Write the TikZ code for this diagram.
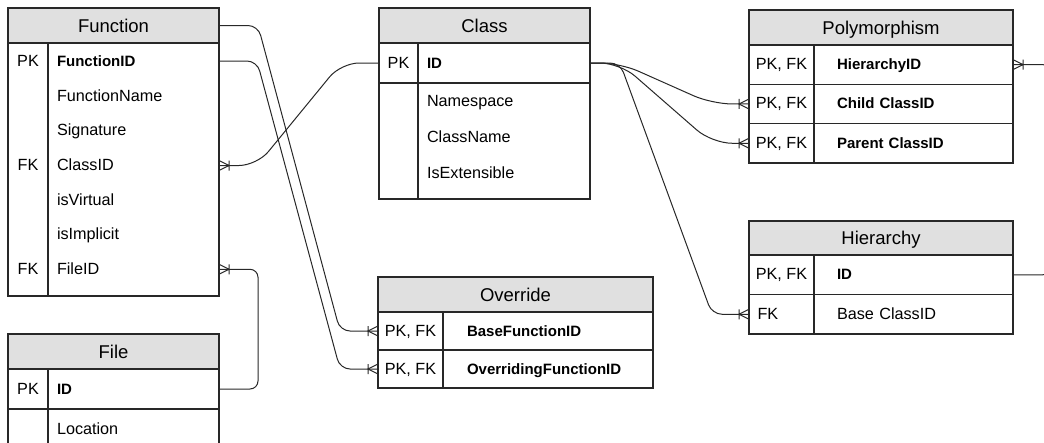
\documentclass[tikz,border=0pt]{standalone}
\usepackage{fontspec}
\setmainfont{Liberation Sans}
\usetikzlibrary{positioning}
\definecolor{hdrgray}{RGB}{224,224,224}
\definecolor{linegray}{RGB}{40,40,40}
\newcommand{\rowfont}{\fontsize{16.2}{19}\selectfont}
\newcommand{\idfont}{\fontsize{15}{18}\selectfont\bfseries}
\newcommand{\headfont}{\fontsize{18.5}{22}\selectfont}

% one-or-many end of a relation
\pgfdeclarearrow{
  name=crowbar,
  setup code={
    \pgfarrowssettipend{0pt}
    \pgfarrowssetlineend{0pt}
    \pgfarrowssetbackend{-11pt}
    \pgfarrowssetvisualbackend{-11pt}
    \pgfarrowshullpoint{0pt}{5pt}
    \pgfarrowshullpoint{0pt}{-5pt}
    \pgfarrowshullpoint{-11pt}{5pt}
    \pgfarrowshullpoint{-11pt}{-5pt}
  },
  drawing code={
    \pgfpathmoveto{\pgfpoint{0pt}{5pt}}
    \pgfpathlineto{\pgfpoint{-10pt}{0pt}}
    \pgfpathlineto{\pgfpoint{0pt}{-5pt}}
    \pgfpathmoveto{\pgfpoint{-10pt}{5pt}}
    \pgfpathlineto{\pgfpoint{-10pt}{-5pt}}
    \pgfusepathqstroke
  }
}

\tikzset{
  head/.style={draw=linegray, fill=hdrgray, line width=1.2pt, anchor=north west, minimum height=35pt,
    inner sep=0pt, outer sep=0pt, text height=13.5pt, text depth=0pt, font=\headfont},
  keycell/.style={inner sep=0pt, outer sep=0pt, text height=12pt, text depth=2pt, font=\rowfont},
  field/.style={inner ysep=0pt, outer sep=0pt, text height=12pt, text depth=2pt, align=left, font=\rowfont},
  idfield/.style={field, font=\idfont},
  boxed/.style={draw=linegray, line width=1.2pt},
  tbl/.style={draw=linegray, line width=1.2pt},
  rel/.style={draw=linegray, line width=1pt, rounded corners=10pt, -crowbar},
}

\begin{document}
\begin{tikzpicture}[x=1pt, y=-1pt]
\useasboundingbox (0,0) rectangle (1044,442);
\clip (0,0) rectangle (1044,442);

% Function
\begin{scope}[keycell/.append style={minimum width=40pt, minimum height=34.6pt},
  field/.append style={inner xsep=9pt, text width=153pt, minimum height=34.6pt}]
  \node[head, minimum width=211pt] (fn-head) at (8,8) {Function};
  \node[keycell, below right=0pt of fn-head.south west, minimum height=36pt] (fn-k1) {PK};
  \node[idfield, right=0pt of fn-k1, minimum height=36pt] (fn-id) {FunctionID};
  \node[keycell, below=0pt of fn-k1] (fn-k2) {};
  \node[field, right=0pt of fn-k2] (fn-name) {FunctionName};
  \node[keycell, below=0pt of fn-k2] (fn-k3) {};
  \node[field, right=0pt of fn-k3] (fn-sig) {Signature};
  \node[keycell, below=0pt of fn-k3] (fn-k4) {FK};
  \node[field, right=0pt of fn-k4] (fn-classid) {ClassID};
  \node[keycell, below=0pt of fn-k4] (fn-k5) {};
  \node[field, right=0pt of fn-k5] (fn-virt) {isVirtual};
  \node[keycell, below=0pt of fn-k5] (fn-k6) {};
  \node[field, right=0pt of fn-k6] (fn-impl) {isImplicit};
  \node[keycell, below=0pt of fn-k6] (fn-k7) {FK};
  \node[field, right=0pt of fn-k7] (fn-fileid) {FileID};
  \draw[tbl] (fn-head.south west) rectangle ++(211,253);
  \draw[tbl] (fn-k1.north east) -- ++(0,253);
\end{scope}

% Class
\begin{scope}[keycell/.append style={minimum width=39pt, minimum height=36pt},
  field/.append style={inner xsep=9pt, text width=154pt, minimum height=36pt}]
  \node[head, minimum width=211pt] (cls-head) at (379,8) {Class};
  \node[keycell, boxed, below right=0pt of cls-head.south west, minimum height=40pt] (cls-k1) {PK};
  \node[idfield, boxed, right=0pt of cls-k1, minimum height=40pt] (cls-id) {ID};
  \node[keycell, below=0pt of cls-k1] (cls-k2) {};
  \node[field, right=0pt of cls-k2] (cls-ns) {Namespace};
  \node[keycell, below=0pt of cls-k2] (cls-k3) {};
  \node[field, right=0pt of cls-k3] (cls-name) {ClassName};
  \node[keycell, below=0pt of cls-k3] (cls-k4) {};
  \node[field, right=0pt of cls-k4] (cls-ext) {IsExtensible};
  \draw[tbl] (cls-k2.north west) rectangle ++(211,116);
  \draw[tbl] (cls-k2.north east) -- ++(0,116);
\end{scope}

% Polymorphism
\begin{scope}[keycell/.append style={boxed, minimum width=65pt, minimum height=39.3pt},
  field/.append style={boxed, inner xsep=23pt, text width=153pt, minimum height=39.3pt}]
  \node[head, minimum width=264pt] (poly-head) at (749,10) {Polymorphism};
  \node[keycell, below right=0pt of poly-head.south west] (poly-k1) {PK, FK};
  \node[idfield, right=0pt of poly-k1] (poly-hid) {HierarchyID};
  \node[keycell, below=0pt of poly-k1] (poly-k2) {PK, FK};
  \node[idfield, right=0pt of poly-k2] (poly-child) {Child ClassID};
  \node[keycell, below=0pt of poly-k2] (poly-k3) {PK, FK};
  \node[idfield, right=0pt of poly-k3] (poly-parent) {Parent ClassID};
\end{scope}

% Hierarchy
\begin{scope}[keycell/.append style={boxed, minimum width=65pt, minimum height=39.5pt},
  field/.append style={boxed, inner xsep=23pt, text width=153pt, minimum height=39.5pt}]
  \node[head, minimum width=264pt, minimum height=34pt] (hier-head) at (749,221) {Hierarchy};
  \node[keycell, below right=0pt of hier-head.south west] (hier-k1) {PK, FK};
  \node[idfield, right=0pt of hier-k1] (hier-id) {ID};
  \node[keycell, below=0pt of hier-k1, text width=48pt, align=left] (hier-k2) {FK};
  \node[field, right=0pt of hier-k2] (hier-base) {Base ClassID};
\end{scope}

% Override
\begin{scope}[keycell/.append style={boxed, minimum width=65pt, minimum height=38pt},
  field/.append style={boxed, inner xsep=24pt, text width=162pt, minimum height=38pt}]
  \node[head, minimum width=275pt] (ovr-head) at (378,277) {Override};
  \node[keycell, below right=0pt of ovr-head.south west] (ovr-k1) {PK, FK};
  \node[idfield, right=0pt of ovr-k1] (ovr-base) {BaseFunctionID};
  \node[keycell, below=0pt of ovr-k1] (ovr-k2) {PK, FK};
  \node[idfield, right=0pt of ovr-k2] (ovr-over) {OverridingFunctionID};
\end{scope}

% File
\begin{scope}[keycell/.append style={boxed, minimum width=40pt, minimum height=40pt},
  field/.append style={boxed, inner xsep=9pt, text width=153pt, minimum height=40pt}]
  \node[head, minimum width=211pt] (file-head) at (8,334) {File};
  \node[keycell, below right=0pt of file-head.south west] (file-k1) {PK};
  \node[idfield, right=0pt of file-k1] (file-id) {ID};
  \node[keycell, below=0pt of file-k1] (file-k2) {};
  \node[field, right=0pt of file-k2] (file-loc) {Location};
\end{scope}

% relations
\draw[rel] (fn-head.east) -- ++(39,0) -- ([xshift=-38pt]ovr-k1.west) -- (ovr-k1.west);
\draw[rel] (fn-id.east) -- ++(38,0) -- ([xshift=-38pt]ovr-k2.west) -- (ovr-k2.west);
\draw[rel, rounded corners=18pt] (cls-k1.west) -- ++(-38,0) -- ([xshift=38pt]fn-classid.east) -- (fn-classid.east);
\draw[rel, rounded corners=20pt] (cls-id.east) -- ++(30,0) -- ([xshift=-37pt]poly-k2.west) -- (poly-k2.west);
\draw[rel, rounded corners=20pt] (cls-id.east) -- ++(30,0) -- ([xshift=-37pt]poly-k3.west) -- (poly-k3.west);
\draw[rel] (cls-id.east) -- ++(30,0) -- ([xshift=-37pt]hier-k2.west) -- (hier-k2.west);
\draw[rel] (hier-id.east) -- ++(40,0) |- (poly-hid.east);
\draw[rel, rounded corners=8pt] (file-id.east) -- ++(39,0) |- (fn-fileid.east);
\end{tikzpicture}
\end{document}
